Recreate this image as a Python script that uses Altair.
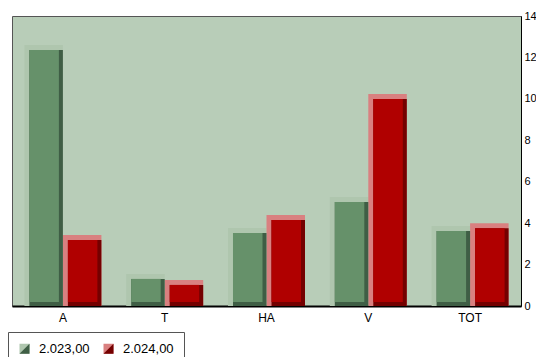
import altair as alt
import pandas as pd

# ---- data ----
categories = ["A", "T", "HA", "V", "TOT"]
years = ["2.023,00", "2.024,00"]
values_2023 = [12.6, 1.55, 3.77, 5.26, 3.86]
values_2024 = [3.43, 1.26, 4.39, 10.23, 4.0]
y_ticks = [0, 2, 4, 6, 8, 10, 12, 14]

title_text = "Housing types in the local rental market (absolute numbers)"

# colours
bg_color = "#b8cdb8"
highlight_colors = ["#afc6ae", "#d98080"]
dark_colors = ["#3f5e45", "#740000"]
face_colors = ["#66916a", "#b00000"]

rows = []
for c, v1, v2 in zip(categories, values_2023, values_2024):
    rows.append({"cat": c, "year": years[0], "value": v1})
    rows.append({"cat": c, "year": years[1], "value": v2})
df = pd.DataFrame(rows)

FONT = "Liberation Sans, Arial, sans-serif"

x_enc = alt.X(
    "cat:N",
    sort=categories,
    scale=alt.Scale(paddingInner=0, paddingOuter=0),
    axis=alt.Axis(
        title=None, ticks=False, labelAngle=0, labelPadding=6,
        labelFontSize=12, labelColor="#000", labelFont=FONT,
        domainColor="#000", domainWidth=2,
    ),
)
y_enc = alt.Y(
    "value:Q",
    scale=alt.Scale(domain=[0, 14], nice=False, zero=True),
    axis=alt.Axis(
        title=None, orient="right", values=y_ticks, grid=False,
        ticks=False, labelPadding=3, labelFontSize=11,
        labelColor="#000", labelFont=FONT,
        domainColor="#000", domainWidth=1,
    ),
)


def xoff(align):
    return alt.XOffset(
        "year:N", sort=years,
        scale=alt.Scale(paddingInner=0, paddingOuter=0.322, align=align),
    )


legend_common = dict(
    title=None,
    orient="none",
    direction="horizontal",
    legendX=-4,
    legendY=316,
    padding=10,
    symbolSize=100,
    symbolStrokeWidth=0,
    labelFontSize=13,
    labelFont=FONT,
    labelColor="#000",
    labelOffset=8,
    columnPadding=12,
)

base = alt.Chart(df)

hl = base.mark_bar(width=38.5).encode(
    x=x_enc, y=y_enc, y2=alt.datum(0), xOffset=xoff(0.5),
    fill=alt.Fill(
        "year:N",
        scale=alt.Scale(domain=years, range=highlight_colors),
        legend=alt.Legend(symbolType="square", strokeColor="#555",
                          **legend_common),
    ),
)

dk = base.mark_bar(width=33.5, yOffset=5).encode(
    x=x_enc, y=y_enc, y2=alt.datum(0), xOffset=xoff(0.6008),
    fill=alt.Fill(
        "year:N",
        scale=alt.Scale(domain=years, range=dark_colors),
        legend=alt.Legend(symbolType="M1,-1L1,1L-1,1Z", labelOpacity=0,
                          **legend_common),
    ),
)

fc = base.mark_bar(width=29.5, yOffset=5, y2Offset=-4).encode(
    x=x_enc, y=y_enc, y2=alt.datum(0), xOffset=xoff(0.5202),
    fill=alt.Fill(
        "year:N",
        scale=alt.Scale(domain=years, range=face_colors),
        legend=None,
    ),
)

chart = (
    alt.layer(hl, dk, fc)
    .resolve_scale(fill="independent", xOffset="independent")
    .resolve_legend(fill="independent")
    .properties(
        width=509,
        height=290,
        background="white",
        autosize=alt.AutoSizeParams(type="none"),
        padding={"left": 4, "top": 8, "right": 15, "bottom": 51},
        title=alt.TitleParams(
            text=title_text, anchor="start", dx=50, offset=0, dy=2,
            baseline="bottom", fontSize=12, fontWeight="bold",
            font=FONT, color="#000",
        ),
    )
    .configure_view(fill=bg_color, stroke="#555", strokeWidth=1)
)

chart.save("out.html", embed_options={"renderer": "svg", "actions": False})
